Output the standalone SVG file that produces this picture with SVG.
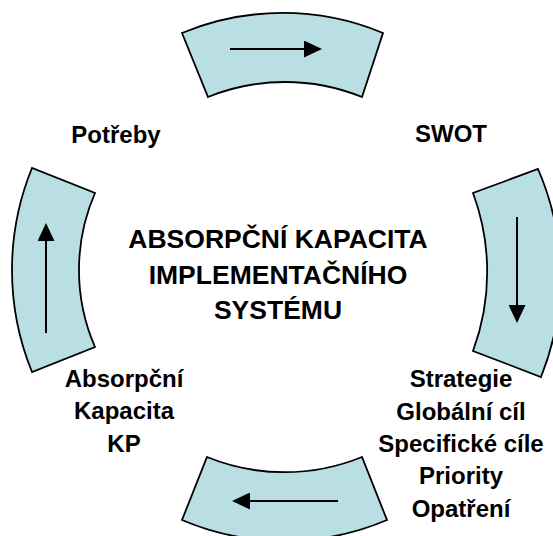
<svg xmlns="http://www.w3.org/2000/svg" width="553" height="536" viewBox="0 0 553 536">
<defs>
<style>
.seg{fill:#B9DFE4;stroke:#000;stroke-width:1.8;stroke-linejoin:miter}
.arr{stroke:#000;stroke-width:2;fill:none;marker-end:url(#head)}
text{font-family:"Liberation Sans",Arial,sans-serif;font-weight:bold;fill:#000;text-anchor:middle}
.lbl{font-size:24px}
.title{font-size:26.5px}
</style>
<marker id="head" viewBox="0 -8.5 18 17" refX="0" refY="0" markerWidth="18" markerHeight="17" markerUnits="userSpaceOnUse" orient="auto">
<path d="M0,-8.5 L18,0 L0,8.5 Z" fill="#000"/>
</marker>
</defs>
<rect width="553" height="536" fill="#fff"/>
<g id="seg-top"><path class="seg" d="M182,33 A262,262 0 0,1 383,33 L362,97 A205,205 0 0,0 208,97 Z"/></g>
<g id="seg-right"><path class="seg" d="M538,169 A270,270 0 0,1 541,377 L473,351 A227,227 0 0,0 473,193 Z"/></g>
<g id="seg-bottom"><path class="seg" d="M207,457 A205,205 0 0,0 362,457 L387,520 A262,262 0 0,1 182,520 Z"/></g>
<g id="seg-left"><path class="seg" d="M32,372 A270,270 0 0,1 32,168 L95,193 A193,193 0 0,0 95,347 Z"/></g>
<g id="connectors">
<line class="arr" x1="230" y1="49" x2="304" y2="49"/>
<line class="arr" x1="517" y1="217" x2="517" y2="305"/>
<line class="arr" x1="338" y1="501" x2="250" y2="501"/>
<line class="arr" x1="46" y1="333" x2="46" y2="241"/>
</g>
<g id="title">
<text class="title" x="278" y="248">ABSORPČNÍ KAPACITA</text>
<text class="title" x="278" y="284">IMPLEMENTAČNÍHO</text>
<text class="title" x="278" y="319">SYSTÉMU</text>
</g>
<g id="potreby"><text class="lbl" x="116" y="143">Potřeby</text></g>
<g id="swot"><text class="lbl" x="451" y="142">SWOT</text></g>
<g id="absorpcni">
<text class="lbl" x="124" y="387">Absorpční</text>
<text class="lbl" x="124" y="419">Kapacita</text>
<text class="lbl" x="124" y="452">KP</text>
</g>
<g id="strategie">
<text class="lbl" x="461" y="387">Strategie</text>
<text class="lbl" x="461" y="420">Globální cíl</text>
<text class="lbl" x="461" y="452">Specifické cíle</text>
<text class="lbl" x="461" y="484">Priority</text>
<text class="lbl" x="461" y="517">Opatření</text>
</g>
</svg>
